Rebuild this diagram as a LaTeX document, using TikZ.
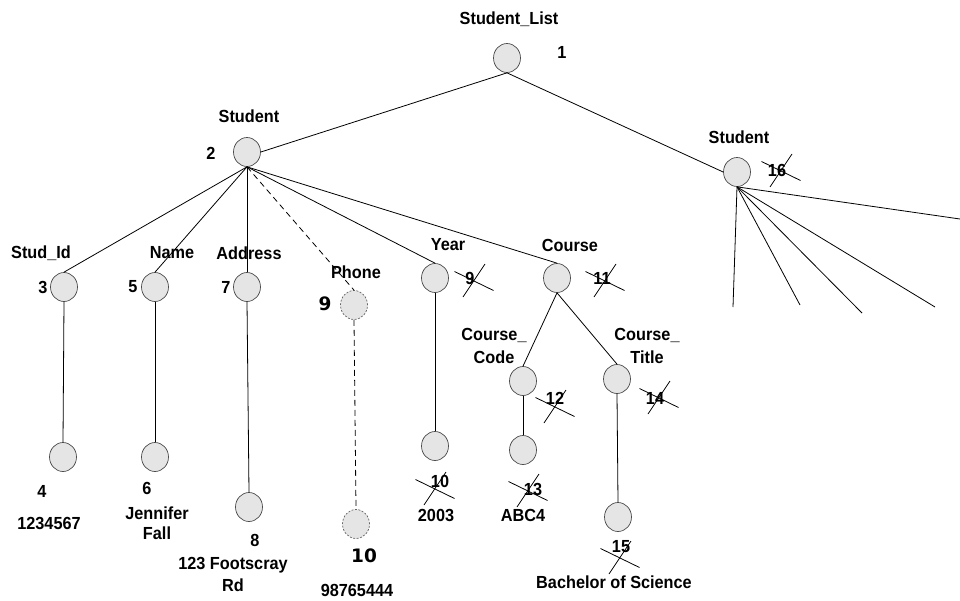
\documentclass[tikz,border=0pt]{standalone}
\usepackage{fontspec}
\setmainfont{Liberation Sans}[FakeStretch=0.93]
\newfontfamily\heavyfont{DejaVu Sans}
\usetikzlibrary{shapes.geometric}
\begin{document}
\begin{tikzpicture}[x=1pt, y=-1pt,
  elem/.style={ellipse, draw=black!70, fill=black!10, line width=0.7pt,
    minimum width=27pt, minimum height=29pt, inner sep=0pt},
  optelem/.style={elem, dashed, draw=black!60, dash pattern=on 2pt off 1.5pt},
  lbl/.style={font=\fontsize{17.5}{19}\selectfont\bfseries, inner sep=0pt, align=center},
  twoline/.style={lbl, font=\fontsize{17.5}{#1}\selectfont\bfseries},
  bignum/.style={font=\fontsize{18.5}{20}\heavyfont\bfseries, inner sep=0pt},
  branch/.style={draw=black, line width=0.8pt},
  optbranch/.style={branch, dashed, dash pattern=on 6pt off 4pt},
  strike/.pic={
    \draw[line width=0.8pt] (-19.5,-9.5) -- (19.5,9.5);
    \draw[line width=0.8pt] (-11,16) -- (11,-17);
  }]
\useasboundingbox (0,0) rectangle (960,600);

% element nodes
\node[elem] (root) at (507,58) {};
\node[elem] (stu)  at (247,152) {};
\node[elem] (stuB) at (737,172) {};
\node[elem] (sid)  at (64,287) {};
\node[elem] (nam)  at (155,287) {};
\node[elem] (adr)  at (247,287) {};
\node[optelem] (pho) at (354,305) {};
\node[elem] (yr)   at (435,278) {};
\node[elem] (crs)  at (557,278) {};
\node[elem] (ccode) at (523,381) {};
\node[elem] (ctitle) at (617,379) {};
\node[elem] (sidv) at (63,457) {};
\node[elem] (namv) at (155,457) {};
\node[elem] (adrv) at (249,507) {};
\node[optelem] (phov) at (356,524) {};
\node[elem] (yrv)  at (435,446) {};
\node[elem] (ccodev) at (523,450) {};
\node[elem] (ctitlev) at (618,517) {};

% tag names
\node[lbl] (tRoot) at (509,19) {Student\_List};
\node[lbl] (tStu) at (249,116) {Student};
\node[lbl] (tStuB) at (739,137) {Student};
\node[lbl] (tSid) at (41,253) {Stud\_Id};
\node[lbl] (tNam) at (172,253) {Name};
\node[lbl] (tAdr) at (249,253) {Address};
\node[lbl] (tPho) at (356,272) {Phone};
\node[lbl] (tYr) at (448,245) {Year};
\node[lbl] (tCrs) at (570,245) {Course};
\node[twoline=23] (tCc) at (494,346) {Course\_\\Code};
\node[twoline=23] (tCt) at (647,346) {Course\_\\Title};

% values
\node[lbl] (vSid) at (49,523) {1234567};
\node[twoline=20] (vNam) at (157,523) {Jennifer\\Fall};
\node[twoline=22] (vAdr) at (233,574) {123 Footscray\\Rd};
\node[lbl] (vPho) at (357,590) {98765444};
\node[lbl] (vYr) at (436,515) {2003};
\node[lbl] (vCc) at (523,515) {ABC4};
\node[lbl] (vCt) at (614,582) {Bachelor of Science};

% numbering
\node[lbl] (k1) at (562,52) {1};
\node[lbl] (k2) at (211,153) {2};
\node[lbl] (k3) at (43,287) {3};
\node[lbl] (k4) at (42,491) {4};
\node[lbl] (k5) at (133,287) {5};
\node[lbl] (k6) at (147,488) {6};
\node[lbl] (k7) at (226,287) {7};
\node[lbl] (k8) at (255,540) {8};
\node[bignum] (k9p) at (325,304) {9};
\node[bignum] (k10p) at (364,556) {10};
\node[lbl] (k9) at (470,278) {9};
\node[lbl] (k10) at (440,481) {10};
\node[lbl] (k11) at (602,278) {11};
\node[lbl] (k12) at (555,398) {12};
\node[lbl] (k13) at (533,489) {13};
\node[lbl] (k14) at (655,398) {14};
\node[lbl] (k15) at (621,547) {15};
\node[lbl] (k16) at (777,170) {16};

% crossed-out numbers
\pic at (474,281) {strike};
\pic at (605,281) {strike};
\pic at (781,171) {strike};
\pic at (555,407) {strike};
\pic at (659,398) {strike};
\pic at (435,489) {strike};
\pic at (528,491) {strike};
\pic at (620,558) {strike};

% tree branches
\draw[branch] (root.south) -- (stu.east);
\draw[branch] (root.south) -- (stuB.west);
\draw[branch] (stu.south) -- (sid.north);
\draw[branch] (stu.south) -- (nam.north);
\draw[branch] (stu.south) -- (adr.north);
\draw[optbranch] (stu.south) -- (pho.north);
\draw[branch] (stu.south) -- (yr.north);
\draw[branch] (stu.south) -- (crs.north);
\draw[branch] (crs.south) -- (ccode.north);
\draw[branch] (crs.south) -- (ctitle.north);
\draw[branch] (sid.south) -- (sidv.north);
\draw[branch] (nam.south) -- (namv.north);
\draw[branch] (adr.south) -- (adrv.north);
\draw[optbranch] (pho.south) -- (phov.north);
\draw[branch] (yr.south) -- (yrv.north);
\draw[branch] (ccode.south) -- (ccodev.north);
\draw[branch] (ctitle.south) -- (ctitlev.north);

% open branches of the second student
\coordinate (e1) at (733,307);
\coordinate (e2) at (800,305);
\coordinate (e3) at (862,313);
\coordinate (e4) at (935,307);
\coordinate (e5) at (960,219);
\foreach \e in {e1,e2,e3,e4,e5}
  \draw[branch] (stuB.south) -- (\e);
\end{tikzpicture}
\end{document}
